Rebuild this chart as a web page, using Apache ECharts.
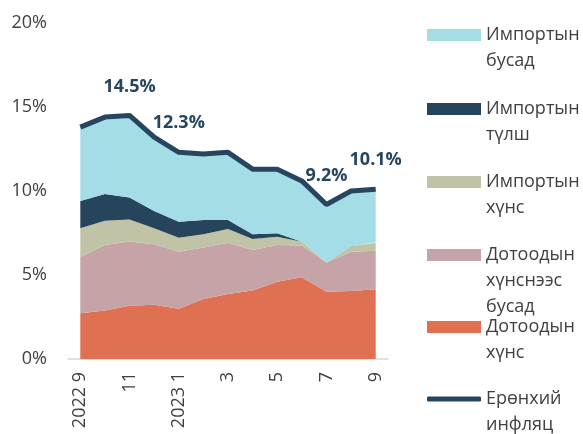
<!DOCTYPE html>
<html lang="mn">
<head>
    <meta charset="UTF-8">
    <title>Инфляцын бүрэлдэхүүн</title>
    <script src="https://cdn.jsdelivr.net/npm/echarts@6/dist/echarts.min.js"></script>
    <style>
        html, body { margin: 0; padding: 0; background: #fff; }
        #main { width: 583px; height: 434px; }
    </style>
</head>
<body>
<div id="main"></div>
<script type="text/javascript">
    // сарууд
    var months = ['2022 9', '10', '11', '12', '2023 1', '2', '3', '4', '5', '6', '7', '8', '9'];

    // хувь нэмэр, нэгж: %
    var domesticFood  = [2.72, 2.88, 3.17, 3.23, 2.99, 3.57, 3.87, 4.07, 4.60, 4.86, 4.00, 4.05, 4.15];
    var domesticOther = [3.37, 3.91, 3.83, 3.60, 3.40, 3.06, 3.05, 2.42, 2.19, 1.89, 1.75, 2.34, 2.30];
    var importFood    = [1.69, 1.44, 1.31, 0.95, 0.83, 0.79, 0.82, 0.65, 0.49, 0.23, 0.00, 0.29, 0.47];
    var importFuel    = [1.62, 1.59, 1.31, 1.03, 0.95, 0.85, 0.53, 0.28, 0.20, 0.00, 0.00, 0.02, 0.03];
    var importOther   = [4.40, 4.58, 4.88, 4.39, 4.13, 3.93, 4.03, 3.88, 3.82, 3.62, 3.45, 3.30, 3.15];
    var headline      = [13.8, 14.4, 14.5, 13.2, 12.3, 12.2, 12.3, 11.3, 11.3, 10.6, 9.2, 10.0, 10.1];
    var labelIdx      = [2, 4, 10, 12];   // шошготой цэгүүд

    var yTicks = [0, 5, 10, 15, 20];

    var font = '"Open Sans", "Noto Sans", sans-serif';
    var LH = 26; // legend мөрийн өндөр
    var myChart = echarts.init(document.getElementById('main'));

    function areaSeries(name, data, color) {
        return {
            name: name,
            type: 'line',
            stack: 'total',
            data: data,
            symbol: 'none',
            lineStyle: { width: 0 },
            itemStyle: { color: color },
            areaStyle: { color: color, opacity: 1 },
            emphasis: { disabled: true }
        };
    }

    // эхний мөрийг дүрстэй зэрэгцүүлэхийн тулд дээр нь хоосон мөр нэмнэ
    function legendOne(name, center, icon, h) {
        var lines = name.split('\n').length;
        var pre = new Array(lines).join('\n');
        return {
            data: [{ name: name, icon: icon || 'rect' }],
            orient: 'vertical',
            left: 427,
            top: center - (2 * lines - 1) * LH / 2,
            padding: 0,
            itemWidth: 54,
            itemHeight: h || 12,
            itemGap: 0,
            itemStyle: { borderWidth: 0 },
            lineStyle: { width: 0 },
            formatter: function (n) { return pre + n; },
            textStyle: {
                fontFamily: font,
                fontSize: 18,
                color: '#404040',
                lineHeight: LH
            },
            selectedMode: false
        };
    }

    var lineData = headline.map(function (v, i) {
        if (labelIdx.indexOf(i) >= 0) {
            return { value: v, label: { show: true } };
        }
        return v;
    });

    var option = {
        animation: false,
        textStyle: { fontFamily: font },
        grid: {
            left: 68,
            right: 195,
            top: 23,
            bottom: 75
        },
        legend: [
            legendOne('Импортын\nбусад', 35),
            legendOne('Импортын\nтүлш', 109),
            legendOne('Импортын\nхүнс', 182),
            legendOne('Дотоодын\nхүнснээс\nбусад', 255),
            legendOne('Дотоодын\nхүнс', 327),
            legendOne('Ерөнхий\nинфляц', 399, 'roundRect', 5)
        ],
        xAxis: {
            type: 'category',
            data: months,
            boundaryGap: true,
            axisLine: { lineStyle: { color: '#d9d9d9', width: 1.5 } },
            axisTick: { show: false },
            axisLabel: {
                rotate: 90,
                interval: 1,
                margin: 13,
                fontFamily: font,
                fontSize: 18,
                color: '#404040'
            }
        },
        yAxis: {
            type: 'value',
            min: yTicks[0],
            max: yTicks[yTicks.length - 1],
            interval: 5,
            splitLine: { show: false },
            axisLine: { show: false },
            axisTick: { show: false },
            axisLabel: {
                formatter: '{value}%',
                margin: 21,
                fontFamily: font,
                fontSize: 18,
                color: '#404040'
            }
        },
        series: [
            areaSeries('Дотоодын\nхүнс', domesticFood, '#e07052'),
            areaSeries('Дотоодын\nхүнснээс\nбусад', domesticOther, '#c5a3a6'),
            areaSeries('Импортын\nхүнс', importFood, '#c0c3a5'),
            areaSeries('Импортын\nтүлш', importFuel, '#26455c'),
            areaSeries('Импортын\nбусад', importOther, '#a5dde7'),
            {
                name: 'Ерөнхий\nинфляц',
                type: 'line',
                data: lineData,
                symbol: 'circle',
                symbolSize: 0,
                showSymbol: true,
                showAllSymbol: true,
                z: 10,
                itemStyle: { color: '#264660' },
                lineStyle: { color: '#264660', width: 5 },
                label: {
                    show: false,
                    position: 'top',
                    distance: 20,
                    fontFamily: font,
                    fontSize: 18,
                    fontWeight: 'bold',
                    color: '#264660',
                    formatter: function (p) { return p.value.toFixed(1) + '%'; }
                },
                emphasis: { disabled: true }
            }
        ]
    };

    myChart.setOption(option);
</script>
</body>
</html>
